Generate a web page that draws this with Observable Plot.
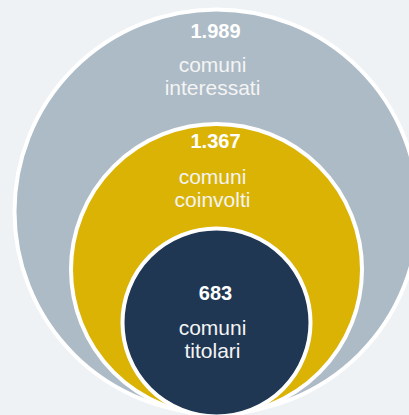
<!DOCTYPE html>
<html>
<head>
<meta charset="utf-8">
<script src="https://cdn.jsdelivr.net/npm/d3@7"></script>
<script src="https://cdn.jsdelivr.net/npm/@observablehq/plot@0.6"></script>
<style>
  html, body { margin: 0; padding: 0; background: #eef2f5; overflow: hidden; width: 409px; height: 415px; }
  #chart svg { display: block; }
</style>
</head>
<body>
<div id="chart"></div>
<script>
// Data
const values = [1989, 1367, 683];
const numberLabels = ["1.989", "1.367", "683"];
const categoryLabels = ["comuni\ninteressati", "comuni\ncoinvolti", "comuni\ntitolari"];
const colors = ["#adbbc6", "#dab305", "#1f3753"];

const rows = values.map((v, i) => ({value: v, num: numberLabels[i], label: categoryLabels[i], color: colors[i]}));

// per-circle text offsets (style, relative to circle centre)
const numDy = [-180, -128, -29];
const labDy = [-135, -81, 17];

const font = "'Liberation Sans', Arial, Helvetica, sans-serif";

const textMarks = rows.flatMap((r, i) => [
  Plot.text([r], {
    y: "value", text: "num", fill: "#ffffff", fontSize: 20, fontWeight: "bold",
    fontFamily: font, dy: numDy[i], dx: -1, lineAnchor: "middle"
  }),
  Plot.text([r], {
    y: "value", text: "label", fill: "#f4f4f4", fontSize: 21,
    fontFamily: font, dy: labDy[i], dx: -4, lineAnchor: "middle", lineHeight: 1.1
  })
]);

const chart = Plot.plot({
  width: 409,
  height: 415,
  marginLeft: 23,
  marginRight: 0,
  marginTop: 0,
  marginBottom: 0,
  style: {background: "#eef2f5", overflow: "visible"},
  y: {type: "linear", domain: values.slice().reverse(), range: [322, 269, 211], axis: null},
  r: {type: "linear", domain: values.slice().reverse(), range: [94, 145.5, 202]},
  color: {type: "identity"},
  marks: [
    Plot.dot(rows, {y: "value", r: "value", fill: "color", stroke: "#ffffff", strokeWidth: 4, fillOpacity: 1}),
    ...textMarks
  ]
});
document.getElementById("chart").appendChild(chart);
</script>
</body>
</html>
